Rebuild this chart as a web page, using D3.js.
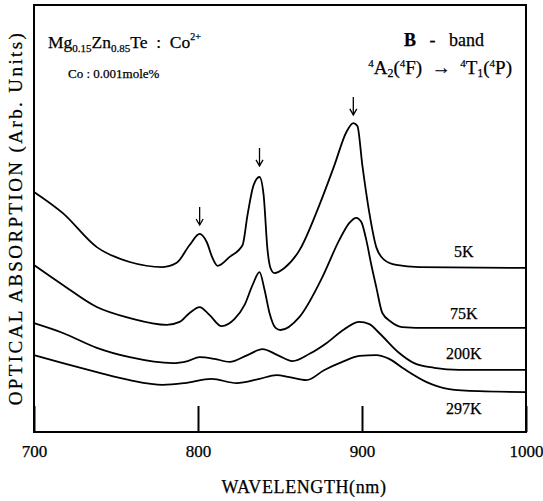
<!DOCTYPE html>
<html>
<head>
<meta charset="utf-8">
<script src="https://cdn.jsdelivr.net/npm/d3@7"></script>
<style>
  body { margin: 0; background: #fff; }
  text { font-family: "Liberation Serif", "Times New Roman", serif; fill: #000; stroke: #000; stroke-width: 0.25px; }
</style>
</head>
<body>
<svg id="chart" width="543" height="501"></svg>
<script>
// wavelength (nm) / absorption (arb. units)
const wl5K = [700,717.6,738.3,758.4,778.5,787,794.9,801,805.3,808.9,812,819.3,827.2,830.2,833.9,837.5,840,842.4,844.2,846.6,852.7,861.9,874,883.2,890.5,894.7,897.2,900.2,904.5,908.7,913.6,920.9,934.9,1000]
const abs5K = [5.65,5.15,4.35,4.0,3.88,3.98,4.40,4.66,4.47,4.09,3.91,4.12,4.40,5.11,5.81,6.0,5.58,4.28,3.86,3.74,3.86,4.28,5.34,6.28,7.06,7.27,7.2,6.28,5.15,4.35,4.05,3.93,3.88,3.86]

const wl75K = [700,717.6,738.3,758.4,780.9,788.8,794.9,801,807.1,814.4,822.3,828.4,833.3,837.5,840.6,843.6,847.3,850.3,861.9,875.9,886.2,892.3,896.5,899.6,902.6,905.7,908.7,912.4,917.8,924.5,941,1000]
const abs75K = [3.93,3.46,2.94,2.68,2.52,2.59,2.80,2.94,2.75,2.49,2.66,2.99,3.46,3.76,3.34,2.80,2.45,2.40,2.71,3.65,4.52,4.92,5.04,4.94,4.52,3.93,3.41,2.80,2.59,2.47,2.45,2.45]

const wl200K = [700,717.6,738.3,758.4,784.6,793.7,801,810.1,819.3,830.2,839.3,848.5,857.6,868,878.3,889.2,898.4,904.5,910.5,922.7,931.8,944,959.2,1000]
const abs200K = [2.56,2.33,1.98,1.76,1.62,1.67,1.76,1.72,1.65,1.81,1.95,1.81,1.67,1.84,2.09,2.42,2.59,2.54,2.33,1.86,1.62,1.51,1.46,1.46]

const wl297K = [700,717.6,738.3,758.4,778.5,791.9,808.3,823.5,837.5,847.9,855.8,866.1,877.1,888,898.4,908.7,916.6,925.8,939.1,953.1,971.4,1000]
const abs297K = [1.81,1.62,1.41,1.22,1.11,1.15,1.25,1.15,1.25,1.34,1.29,1.22,1.46,1.65,1.79,1.81,1.72,1.48,1.18,1.01,0.96,0.94]

const tempLabels = ["5K", "75K", "200K", "297K"]
const labelLevel = [4.26, 2.8, 1.86, 0.56]

const xTicks = [700, 800, 900, 1000]

// arrows over the three B-band peaks
const arrowWl = [801, 837.5, 894.7]
const arrowTip = [4.87, 6.26, 7.46]

const svg = d3.select("#chart")
const plotL = 34, plotR = 526, plotT = 5, plotB = 432

const x = d3.scaleLinear().domain([700, 1000]).range([plotL, plotR])
const y = d3.scaleLinear().domain([0, 10]).range([plotB, 7])

// frame
svg.append("rect")
  .attr("x", plotL).attr("y", plotT)
  .attr("width", plotR - plotL).attr("height", plotB - plotT)
  .attr("fill", "none").attr("stroke", "#000").attr("stroke-width", 2)

// x axis with inner ticks
const xAxis = svg.append("g")
  .attr("transform", "translate(0," + plotB + ")")
  .call(d3.axisBottom(x).tickValues(xTicks).tickFormat(d3.format("d"))
    .tickSizeInner(-26).tickSizeOuter(0).tickPadding(13))
xAxis.select(".domain").remove()
xAxis.selectAll("line").attr("stroke", "#000").attr("stroke-width", 2)
xAxis.selectAll("text")
  .style("font-family", '"Liberation Serif", serif')
  .style("font-size", "17px")
  .attr("fill", "#000")

const line = d3.line()
  .x(d => x(d[0]))
  .y(d => y(d[1]))
  .curve(d3.curveMonotoneX)

const series = [
  d3.zip(wl5K, abs5K),
  d3.zip(wl75K, abs75K),
  d3.zip(wl200K, abs200K),
  d3.zip(wl297K, abs297K)
]

svg.selectAll("path.spec")
  .data(series)
  .join("path")
  .attr("class", "spec")
  .attr("fill", "none")
  .attr("stroke", "#000")
  .attr("stroke-width", 1.8)
  .attr("stroke-linejoin", "round")
  .attr("d", line)

// temperature labels
svg.selectAll("text.temp")
  .data(tempLabels)
  .join("text")
  .attr("class", "temp")
  .attr("x", x(962))
  .attr("y", (d, i) => y(labelLevel[i]))
  .attr("dy", "0.35em")
  .attr("text-anchor", "middle")
  .style("font-size", "16px")
  .text(d => d)

// arrows
const arrows = svg.selectAll("g.arrow")
  .data(arrowWl)
  .join("g")
  .attr("class", "arrow")
  .attr("transform", (d, i) => "translate(" + x(d) + "," + y(arrowTip[i]) + ")")
arrows.append("line")
  .attr("x1", 0).attr("x2", 0).attr("y1", -18).attr("y2", 0)
  .attr("stroke", "#000").attr("stroke-width", 1.3)
arrows.append("path")
  .attr("d", "M-3.5,-6 L0,0 L3.5,-6")
  .attr("fill", "none").attr("stroke", "#000").attr("stroke-width", 1.3)

// annotations
const title = svg.append("text").attr("x", 48).attr("y", 48).style("font-size", "17.5px")
title.append("tspan").text("Mg")
title.append("tspan").attr("dy", 4).style("font-size", "11px").text("0.15")
title.append("tspan").attr("dy", -4).text("Zn")
title.append("tspan").attr("dy", 4).style("font-size", "11px").text("0.85")
title.append("tspan").attr("dy", -4).text("Te\u00a0 :\u00a0 Co")
title.append("tspan").attr("dy", -8).style("font-size", "10px").text("2+")

svg.append("text").attr("x", 68).attr("y", 78).style("font-size", "13px")
  .text("Co : 0.001mole%")

const band = svg.append("text").attr("x", 444).attr("y", 46)
  .attr("text-anchor", "middle").style("font-size", "18px")
band.append("tspan").style("font-weight", "bold").text("B")
band.append("tspan").text("\u00a0\u00a0 - \u00a0\u00a0band")

const trans = svg.append("text").attr("x", 512).attr("y", 74)
  .attr("text-anchor", "end").style("font-size", "19px")
trans.append("tspan").attr("dy", -7).style("font-size", "11px").text("4")
trans.append("tspan").attr("dy", 7).text("A")
trans.append("tspan").attr("dy", 3).style("font-size", "12px").text("2")
trans.append("tspan").attr("dy", -3).text("(")
trans.append("tspan").attr("dy", -7).style("font-size", "11px").text("4")
trans.append("tspan").attr("dy", 7).text("F) \u00a0\u2192 \u00a0")
trans.append("tspan").attr("dy", -7).style("font-size", "11px").text("4")
trans.append("tspan").attr("dy", 7).text("T")
trans.append("tspan").attr("dy", 3).style("font-size", "12px").text("1")
trans.append("tspan").attr("dy", -3).text("(")
trans.append("tspan").attr("dy", -7).style("font-size", "11px").text("4")
trans.append("tspan").attr("dy", 7).text("P)")

// axis titles
svg.append("text")
  .attr("x", 304).attr("y", 493)
  .attr("text-anchor", "middle")
  .style("font-size", "18px").style("letter-spacing", "0.6px")
  .text("WAVELENGTH(nm)")

svg.append("text")
  .attr("transform", "translate(22,218) rotate(-90)")
  .attr("text-anchor", "middle")
  .style("font-size", "19px").style("letter-spacing", "2.4px")
  .text("OPTICAL ABSORPTION (Arb. Units)")
</script>
</body>
</html>
